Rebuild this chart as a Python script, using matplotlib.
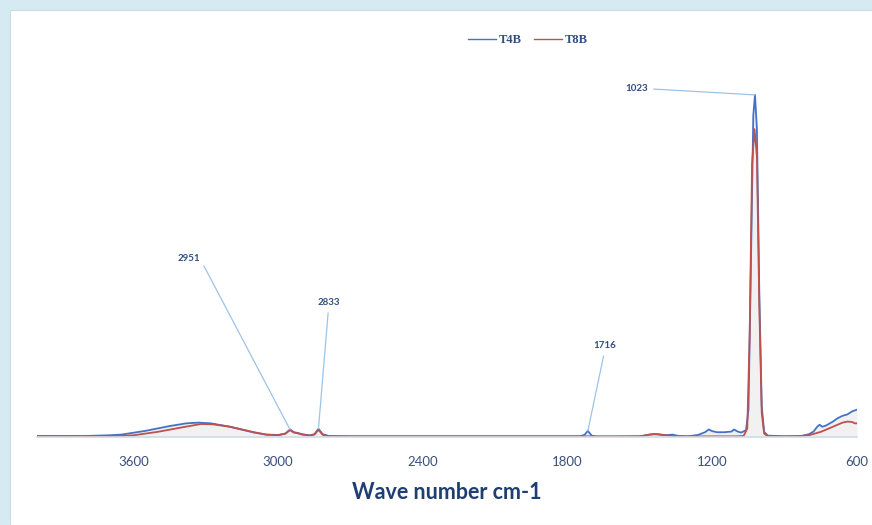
import matplotlib.pyplot as plt
from matplotlib.patches import Rectangle

# ---------------------------------------------------------------
# DATA
# ---------------------------------------------------------------
wn_t4b = [4000, 3800, 3700, 3650, 3550, 3450, 3380, 3330, 3280, 3200, 3100, 3050,
          3000, 2970, 2951, 2935, 2920, 2900, 2870, 2850, 2833, 2815, 2790, 2700,
          2400, 2000, 1750, 1730, 1716, 1700, 1680, 1600, 1500, 1460, 1440, 1420,
          1400, 1380, 1365, 1340, 1300, 1260, 1230, 1215, 1200, 1180, 1150, 1120,
          1110, 1095, 1080, 1060, 1050, 1040, 1030, 1023, 1015, 1005, 995, 985,
          970, 900, 830, 800, 780, 765, 755, 745, 730, 700, 680, 660, 640, 620, 600]
abs_t4b = [0.003, 0.003, 0.005, 0.007, 0.018, 0.032, 0.040, 0.042, 0.040, 0.030, 0.013, 0.007,
           0.006, 0.010, 0.022, 0.014, 0.012, 0.008, 0.005, 0.008, 0.024, 0.008, 0.003, 0.002,
           0.002, 0.002, 0.002, 0.006, 0.018, 0.004, 0.001, 0.001, 0.002, 0.007, 0.008, 0.007,
           0.005, 0.006, 0.007, 0.003, 0.002, 0.006, 0.014, 0.022, 0.017, 0.014, 0.014, 0.016,
           0.022, 0.016, 0.013, 0.020, 0.080, 0.500, 0.940, 1.000, 0.900, 0.420, 0.090, 0.015,
           0.004, 0.002, 0.003, 0.008, 0.016, 0.030, 0.036, 0.030, 0.033, 0.045, 0.055, 0.062,
           0.066, 0.075, 0.080]

wn_t8b = [4000, 3700, 3600, 3500, 3400, 3320, 3270, 3200, 3100, 3050, 3000, 2970,
          2951, 2935, 2920, 2900, 2870, 2850, 2833, 2815, 2790, 2000, 1500, 1460,
          1440, 1420, 1400, 1380, 1350, 1100, 1070, 1055, 1045, 1035, 1025, 1015,
          1005, 995, 985, 970, 850, 800, 750, 700, 660, 640, 620, 610, 600]
abs_t8b = [0.001, 0.002, 0.005, 0.015, 0.028, 0.038, 0.037, 0.030, 0.014, 0.007, 0.005, 0.010,
           0.020, 0.013, 0.011, 0.007, 0.004, 0.007, 0.021, 0.006, 0.002, 0.002, 0.002, 0.007,
           0.009, 0.008, 0.006, 0.004, 0.002, 0.002, 0.003, 0.025, 0.300, 0.800, 0.900, 0.820,
           0.380, 0.070, 0.010, 0.002, 0.002, 0.005, 0.015, 0.030, 0.042, 0.045, 0.044, 0.040,
           0.040]

series_names = ['T4B', 'T8B']

# peak labels: (label, peak wavenumber, peak height, label wavenumber, label height)
peak_labels = [('1023', 1023, 1.0, 1513, 1.018),
               ('2951', 2951, 0.022, 3372, 0.523),
               ('2833', 2833, 0.024, 2791, 0.392),
               ('1716', 1716, 0.018, 1646, 0.266)]

x_ticks = [3600, 3000, 2400, 1800, 1200, 600]

# ---------------------------------------------------------------
# PLOT
# ---------------------------------------------------------------
fig = plt.figure(figsize=(8.72, 5.25), dpi=100)
fig.patch.set_facecolor('#d6eaf1')
fig.patches.append(Rectangle((10 / 872, 0), 1, 515 / 525, transform=fig.transFigure,
                             facecolor='white', edgecolor='#c8dcea', lw=0.8, zorder=-10))

ax = fig.add_axes([37 / 872, 88 / 525, 820 / 872, 377 / 525])
ax.set_facecolor('none')

ax.fill_between(wn_t4b, abs_t4b, 0, color='#d9d9d9', alpha=0.35, lw=0)
ax.plot(wn_t4b, abs_t4b, color='#4472c4', lw=1.3, label=series_names[0])
ax.plot(wn_t8b, abs_t8b, color='#c0504d', lw=1.3, label=series_names[1])

label_color = '#2f4f7f'
for txt, px, py, tx, ty in peak_labels:
    rel = (1, 0.5) if txt in ('1023', '2951') else (0.5, 0)
    ax.annotate(txt, xy=(px, py), xytext=(tx, ty), ha='center', va='center',
                fontsize=7, fontweight='bold', color=label_color, family='Lato',
                arrowprops=dict(arrowstyle='-', color='#9dc3e6', lw=0.9,
                                relpos=rel, shrinkA=2, shrinkB=0))

ax.set_xlim(4000, 600)
ax.set_ylim(0, 1.102)
ax.set_xticks(x_ticks)
ax.set_xticklabels([str(t) for t in x_ticks], fontsize=9.5, color='#3a4f7a', family='Lato')
ax.tick_params(axis='x', length=0, pad=14)
ax.set_yticks([])
for s in ['top', 'right', 'left']:
    ax.spines[s].set_visible(False)
ax.spines['bottom'].set_color('#d0dce9')
ax.spines['bottom'].set_linewidth(1.2)

ax.set_xlabel('Wave number cm-1', fontsize=15.5, fontweight='bold', color='#1f3f73',
              family='Lato', labelpad=10)

leg = ax.legend(loc='center', bbox_to_anchor=(0.599, 1.053), ncol=2, frameon=False,
                handlelength=2.2, handletextpad=0.25, columnspacing=1.0,
                prop={'family': 'Liberation Serif', 'weight': 'bold', 'size': 9})
for t in leg.get_texts():
    t.set_color(label_color)
for h in leg.get_lines():
    h.set_linewidth(1.0)

fig.savefig('out.png', dpi=100, facecolor=fig.get_facecolor())
